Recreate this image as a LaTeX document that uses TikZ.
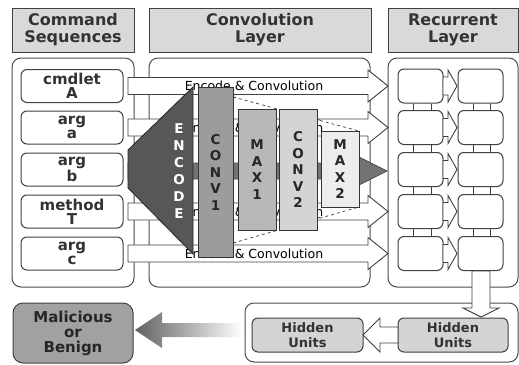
\documentclass[tikz,border=0pt]{standalone}
\usepackage{fontspec}
\setmainfont{DejaVu Sans}
\newcommand\pathR[6]{(#1,#4-#5) -- (#2,#4-#5) -- (#2,#4-#6) -- (#3,#4) -- (#2,#4+#6) -- (#2,#4+#5) -- (#1,#4+#5) -- cycle}
\newcommand\pathD[6]{(#4-#5,#1) -- (#4-#5,#2) -- (#4-#6,#2) -- (#4,#3) -- (#4+#6,#2) -- (#4+#5,#2) -- (#4+#5,#1) -- cycle}
\begin{document}
\begin{tikzpicture}[x=1pt,y=-1pt,
  hdr/.style={draw=black!75, fill=black!15, line width=1pt, inner sep=0pt, align=center, text=black!80, font=\bfseries\fontsize{16}{17}\selectfont},
  cont/.style={draw=black!70, fill=white, line width=1pt, rounded corners=9pt, inner sep=0pt},
  cmdbox/.style={draw=black!75, fill=white, line width=1pt, rounded corners=6pt, minimum width=102pt, minimum height=33pt, inner sep=0pt, align=center, text=black!80, font=\bfseries\fontsize{15}{14}\selectfont},
  cell/.style={draw=black!75, fill=white, line width=1pt, rounded corners=6pt, minimum width=45pt, minimum height=34pt, inner sep=0pt},
  hid/.style={draw=black!75, fill=black!17, line width=1pt, rounded corners=6pt, minimum width=110pt, minimum height=34pt, inner sep=0pt, align=center, text=black!80, font=\bfseries\fontsize{13}{15}\selectfont},
  layer/.style={draw=black!80, line width=0.8pt, inner sep=0pt, align=center, text=black!85, font=\bfseries\fontsize{13.5}{16.5}\selectfont},
  warr/.style={draw=black!75, fill=white, line width=0.9pt},
  arrtext/.style={font=\fontsize{12.5}{14}\selectfont, inner sep=0pt},
  dsh/.style={black!75, dashed, line width=0.7pt},
  conn/.style={black!75, line width=0.9pt},
]
\useasboundingbox (0,0) rectangle (519,364);

% headers
\node[hdr, minimum width=122pt, minimum height=44pt] (h1) at (73,30) {Command\\Sequences};
\node[hdr, minimum width=222pt, minimum height=44pt] (h2) at (260,30) {Convolution\\Layer};
\node[hdr, minimum width=130pt, minimum height=44pt] (h3) at (453,30) {Recurrent\\Layer};

% containers
\node[cont, minimum width=122pt, minimum height=229pt] (cl) at (73,172.5) {};
\node[cont, minimum width=221pt, minimum height=229pt] (cc) at (259.5,172.5) {};
\node[cont, minimum width=130pt, minimum height=229pt] (cr) at (453,172.5) {};
\node[cont, minimum width=273pt, minimum height=59pt] (cb) at (381.5,332.5) {};

% command boxes
\node[cmdbox] (s1) at (72,86) {cmdlet\\A};
\node[cmdbox] (s2) at (72,127.5) {arg\\a};
\node[cmdbox] (s3) at (72,169.5) {arg\\b};
\node[cmdbox] (s4) at (72,211.5) {method\\T};
\node[cmdbox] (s5) at (72,253.5) {arg\\c};

% white arrows
\foreach \cy/\nm in {86/t1,127.5/t2,211.5/t4,253.5/t5}{
  \draw[warr] \pathR{128}{368}{388}{\cy}{8.5}{16};
  \node[arrtext] (\nm) at (254,\cy) {Encode \& Convolution};
}

% dashed pyramid lines
\coordinate (d1) at (233,97);
\coordinate (d2) at (359,131);
\coordinate (d3) at (233,243);
\coordinate (d4) at (359,207);
\draw[dsh] (d1) -- (d2);
\draw[dsh] (d3) -- (d4);

% gray arrow
\draw[draw=black!70, fill=black!55, line width=0.8pt] \pathR{128}{359}{387}{171}{8}{14};

% layers
\draw[draw=black!85, fill=black!66, line width=0.8pt] (193,87) -- (128,150) -- (128,188) -- (193,254) -- cycle;
\node[font=\bfseries\fontsize{13.5}{17}\selectfont, text=white, align=center, inner sep=0pt] (enc) at (179,171) {E\\N\\C\\O\\D\\E};
\node[layer, fill=black!39, minimum width=35pt, minimum height=170pt] (conv1) at (215.5,172) {C\\O\\N\\V\\1};
\node[layer, fill=black!28, minimum width=38pt, minimum height=121pt] (max1) at (257,169.5) {M\\A\\X\\1};
\node[layer, fill=black!17, minimum width=38pt, minimum height=121pt] (conv2) at (298,169.5) {C\\O\\N\\V\\2};
\node[layer, fill=black!7, minimum width=38pt, minimum height=76pt] (max2) at (340,169) {M\\A\\X\\2};
\draw[dsh] (d1) -- (238,98.4);
\draw[dsh] (d3) -- (238,241.6);
\draw[dsh] (317,119.3) -- (321,120.4);
\draw[dsh] (317,218) -- (321,216.9);

% recurrent cells
\foreach \r/\cy in {1/86,2/127.5,3/169.5,4/211.5,5/253.5}{
  \node[cell] (a\r) at (420.5,\cy) {};
  \node[cell] (b\r) at (480.5,\cy) {};
  \draw[warr] \pathR{443}{448}{457}{\cy}{9}{16};
}
\foreach \r/\n in {1/2,2/3,3/4,4/5}{
  \draw[conn] (a\r.south -| 413,0) -- (a\n.north -| 413,0);
  \draw[conn] (a\r.south -| 431,0) -- (a\n.north -| 431,0);
  \draw[conn] (b\r.south -| 473,0) -- (b\n.north -| 473,0);
  \draw[conn] (b\r.south -| 490,0) -- (b\n.north -| 490,0);
}

% bottom part
\draw[warr] \pathD{271}{308}{317}{481}{9}{18};
\node[hid] (hu2) at (453,335) {Hidden\\Units};
\node[hid, minimum width=111pt] (hu1) at (307.5,335) {Hidden\\Units};
\draw[warr] \pathR{398}{380}{363}{335}{8}{17};
\shade[left color=black!62, right color=white] \pathR{242}{162}{135}{330}{7}{18};
\node[draw=black!75, fill=black!37, line width=1pt, rounded corners=10pt, minimum width=120pt, minimum height=60pt, inner sep=0pt, align=center, text=black!85, font=\bfseries\fontsize{15}{15}\selectfont] (mb) at (73,333) {Malicious\\or\\Benign};
\end{tikzpicture}
\end{document}
